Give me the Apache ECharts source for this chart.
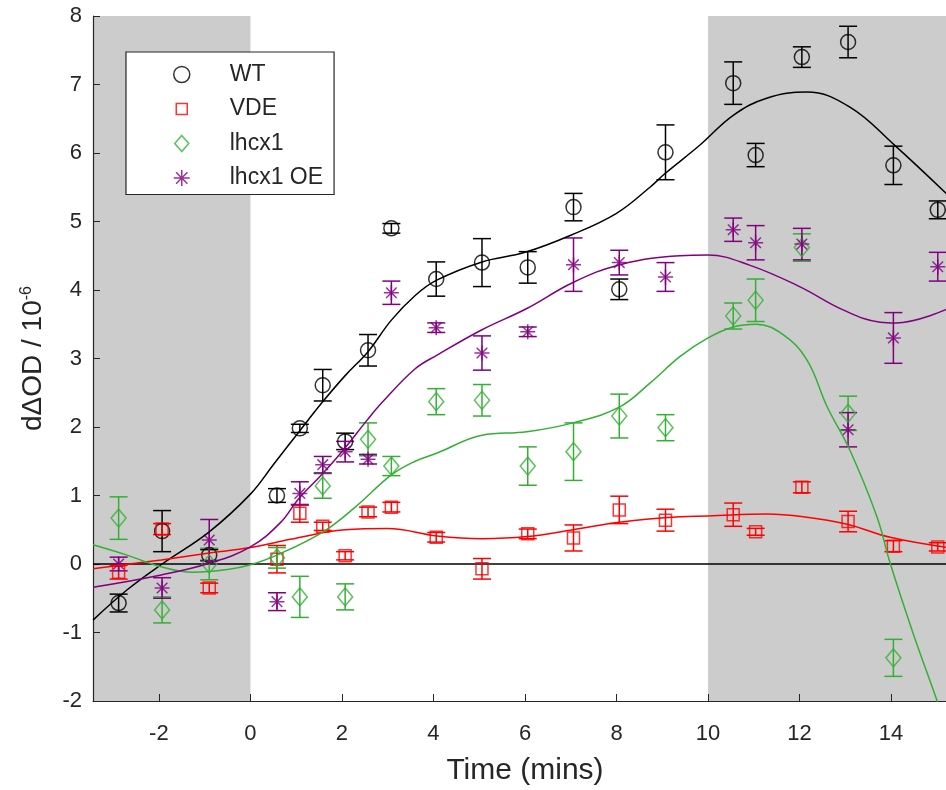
<!DOCTYPE html>
<html><head><meta charset="utf-8">
<script src="https://cdn.jsdelivr.net/npm/echarts@6/dist/echarts.min.js"></script>
<style>html,body{margin:0;padding:0;background:#fff}#c{width:946px;height:790px}</style>
</head><body><div id="c"></div>
<script>
// ---- data ----
const times = [-2.88,-1.93,-0.9,0.58,1.08,1.58,2.07,2.57,3.08,4.06,5.06,6.06,7.06,8.06,9.07,10.55,11.04,12.05,13.06,14.05,15.02];
const wtY   = [-0.57,0.48,0.13,1.0,1.98,2.61,1.79,3.12,4.9,4.16,4.4,4.33,5.21,4.01,6.01,7.02,5.97,7.4,7.62,5.82,5.17];
const wtErr = [0.13,0.3,0.08,0.1,0.06,0.23,0.12,0.23,0.07,0.25,0.35,0.23,0.2,0.15,0.4,0.31,0.17,0.15,0.23,0.28,0.13];
const vdeY   = [-0.12,0.51,-0.35,0.07,0.74,0.55,0.12,0.76,0.83,0.39,-0.07,0.44,0.38,0.79,0.64,0.72,0.47,1.12,0.62,0.26,0.25];
const vdeErr = [0.1,0.08,0.07,0.2,0.13,0.06,0.06,0.07,0.07,0.07,0.15,0.07,0.19,0.2,0.16,0.17,0.05,0.08,0.15,0.08,0.06];
const lhcY   = [0.67,-0.67,0.0,0.09,-0.48,1.14,-0.48,1.82,1.43,2.37,2.39,1.43,1.64,2.16,1.99,3.62,3.85,4.62,2.2,-1.37,null];
const lhcErr = [0.31,0.19,0.23,0.15,0.3,0.18,0.19,0.24,0.14,0.19,0.23,0.28,0.42,0.32,0.19,0.19,0.31,0.2,0.25,0.27,null];
const oeY   = [0.0,-0.35,0.35,-0.55,1.03,1.45,1.64,1.53,3.96,3.45,3.08,3.39,4.37,4.4,4.19,4.88,4.69,4.67,1.96,3.3,4.34];
const oeErr = [0.1,0.15,0.3,0.13,0.17,0.12,0.15,0.07,0.17,0.07,0.25,0.07,0.39,0.18,0.21,0.17,0.25,0.23,0.25,0.37,0.21];

const wtFit = [[-3.44,-0.82],[-2.7,-0.38],[-1.93,0.0],[-0.9,0.47],[0,1.02],[0.5,1.45],[1.05,1.92],[1.57,2.36],[2.07,2.75],[2.57,3.1],[3.08,3.56],[3.6,3.92],[4.06,4.14],[5.06,4.41],[6.0,4.55],[7.0,4.8],[8.0,5.12],[8.73,5.5],[9.06,5.7],[9.83,6.12],[10.55,6.55],[11.28,6.8],[12.16,6.89],[13.1,6.67],[14.05,6.13],[15.25,5.38]];
const vdeFit = [[-3.44,-0.07],[-1.95,0.06],[-0.9,0.16],[0,0.24],[0.87,0.36],[2.07,0.5],[3.0,0.52],[4.08,0.41],[5.06,0.37],[6.04,0.4],[7.05,0.5],[8.06,0.61],[9.39,0.69],[10.0,0.7],[11.28,0.73],[12.08,0.69],[13.04,0.58],[13.98,0.39],[15.25,0.24]];
const lhcFit = [[-3.44,0.28],[-2.7,0.13],[-1.95,-0.04],[-1.25,-0.12],[-0.5,-0.08],[0,-0.01],[0.58,0.13],[1.59,0.47],[2.29,0.83],[3.08,1.3],[3.6,1.5],[4.08,1.62],[5.06,1.88],[6.04,1.93],[7.05,2.06],[8.06,2.29],[8.73,2.64],[9.39,3.03],[10.0,3.3],[10.55,3.46],[11.05,3.5],[11.64,3.35],[12.16,2.98],[12.6,2.3],[13.1,1.66],[13.69,0.69],[13.98,0.01],[14.48,-1.01],[15.0,-1.99],[15.25,-2.5]];
const oeFit = [[-3.44,-0.34],[-1.95,-0.16],[-0.9,0.01],[0,0.25],[0.65,0.6],[1.05,0.95],[1.55,1.3],[2.05,1.68],[2.55,2.1],[2.88,2.36],[3.6,2.85],[4.08,3.05],[5.06,3.42],[6.04,3.73],[7.05,4.11],[8.08,4.37],[9.39,4.5],[10.0,4.51],[10.92,4.36],[12.0,4.05],[12.95,3.71],[13.76,3.53],[14.1,3.52],[15.25,3.73]];

const shadeRanges = [[-3.44,0],[10,15.44]];
const zeroLine = [[-3.44,0],[15.44,0]];
const xTicks = [-2,0,2,4,6,8,10,12,14];
const names = ['WT','VDE','lhcx1','lhcx1 OE'];

// ---- styling ----
const FONT = '"Liberation Sans", Arial, sans-serif';
const AX = '#262626';
const colors = ['#000000','#ff0000','#33b033','#800080'];
const starPath = 'path://M0,-10L0,10M-10,0L10,0M-7.07,-7.07L7.07,7.07M-7.07,7.07L7.07,-7.07';
const symbols = ['circle','rect','diamond',starPath];
const legendIcons = ['circle','path://M0,0M2.5,2.5L13.5,2.5L13.5,13.5L2.5,13.5Z M16,16','path://M7,0L14,8L7,16L0,8Z',starPath];
const sizes = [15,12,[15,18],15];

function pts(ys){ return times.map((t,i)=>[t, ys[i]]).filter(p=>p[1]!=null); }
function errs(ys, es){ return times.map((t,i)=>ys[i]==null?null:[t, ys[i], ys[i]-es[i], ys[i]+es[i]]).filter(p=>p); }
function errRender(color){
  return function(params, api){
    const x = api.value(0);
    const pLo = api.coord([x, api.value(2)]), pHi = api.coord([x, api.value(3)]);
    const hw = 9;
    const style = {stroke: color, lineWidth: 1.5, fill: null};
    return {type:'group', children:[
      {type:'line', shape:{x1:pLo[0],y1:pLo[1],x2:pHi[0],y2:pHi[1]}, style},
      {type:'line', shape:{x1:pLo[0]-hw,y1:pLo[1],x2:pLo[0]+hw,y2:pLo[1]}, style},
      {type:'line', shape:{x1:pHi[0]-hw,y1:pHi[1],x2:pHi[0]+hw,y2:pHi[1]}, style}
    ]};
  };
}

const ySets = [[wtY,wtErr],[vdeY,vdeErr],[lhcY,lhcErr],[oeY,oeErr]];
const fits = [wtFit, vdeFit, lhcFit, oeFit];

const series = [];
series.push({
  type:'custom', name:'shade', z:0, silent:true, clip:true,
  data: shadeRanges,
  renderItem: function(params, api){
    const a = api.coord([api.value(0), 8]), b = api.coord([api.value(1), -2]);
    return {type:'rect', shape:{x:a[0], y:a[1], width:b[0]-a[0], height:b[1]-a[1]}, style:{fill:'#cccccc'}};
  }
});
series.push({type:'line', name:'zero', data: zeroLine, symbol:'none', lineStyle:{color:'#000', width:1.3}, z:1, silent:true});
for (let k=0;k<4;k++){
  series.push({type:'custom', name:names[k]+' err', data: errs(ySets[k][0], ySets[k][1]), renderItem: errRender(colors[k]), encode:{x:0,y:[2,3]}, z:3, clip:true, silent:true});
  series.push({type:'scatter', name:names[k], data: pts(ySets[k][0]), symbol: symbols[k], symbolSize: sizes[k],
    itemStyle:{color:'rgba(0,0,0,0)', borderColor: colors[k], borderWidth:1.5}, z:4, silent:true, clip:true});
}
for (let k=0;k<4;k++){
  series.push({type:'line', name:names[k]+' fit', data: fits[k], symbol:'none', smooth:0.4,
    lineStyle:{color: colors[k], width:1.5}, z:5, silent:true, clip:true});
}

const chart = echarts.init(document.getElementById('c'), null, {renderer:'canvas'});
chart.setOption({
  animation:false,
  backgroundColor:'#ffffff',
  textStyle:{fontFamily: FONT},
  grid:{left:93, top:16, width:864, height:685, containLabel:false, outerBoundsMode:'none'},
  legend:{
    orient:'vertical', left:126, top:52,
    data: names.map((n,k)=>({name:n, icon: legendIcons[k],
      itemStyle:{color:'rgba(0,0,0,0)', borderColor: colors[k], borderWidth:1.5}})),
    itemWidth:16, itemHeight:16, itemGap:11.5,
    padding:[11,11,5,47],
    backgroundColor:'#ffffff', borderColor:AX, borderWidth:1.2, borderRadius:0,
    textStyle:{fontSize:23, color:AX, fontFamily:FONT, padding:[0,0,0,35]},
    selectedMode:false
  },
  xAxis:{
    type:'value', min:-3.44, max:15.44,
    name:'Time (mins)', nameLocation:'middle', nameGap:55,
    nameTextStyle:{fontSize:30, color:AX, fontFamily:FONT},
    axisLine:{show:true, onZero:false, lineStyle:{color:AX, width:1.2}},
    axisTick:{show:true, inside:true, length:7, customValues:xTicks, lineStyle:{color:AX}},
    axisLabel:{customValues:xTicks, fontSize:22, color:AX, margin:22, fontFamily:FONT},
    splitLine:{show:false}
  },
  yAxis:{
    type:'value', min:-2, max:8, interval:1,
    name:'dΔOD / 10{sup|-6}', nameLocation:'middle', nameGap:45,
    nameTextStyle:{fontSize:28, color:AX, fontFamily:FONT, rich:{sup:{fontSize:16, color:AX, fontFamily:FONT, verticalAlign:'top', padding:[0,0,13,0]}}},
    axisLine:{show:true, onZero:false, lineStyle:{color:AX, width:1.2}},
    axisTick:{show:true, inside:true, length:7, lineStyle:{color:AX}},
    axisLabel:{fontSize:22, color:AX, margin:11, fontFamily:FONT},
    splitLine:{show:false}
  },
  series: series
});
</script></body></html>
